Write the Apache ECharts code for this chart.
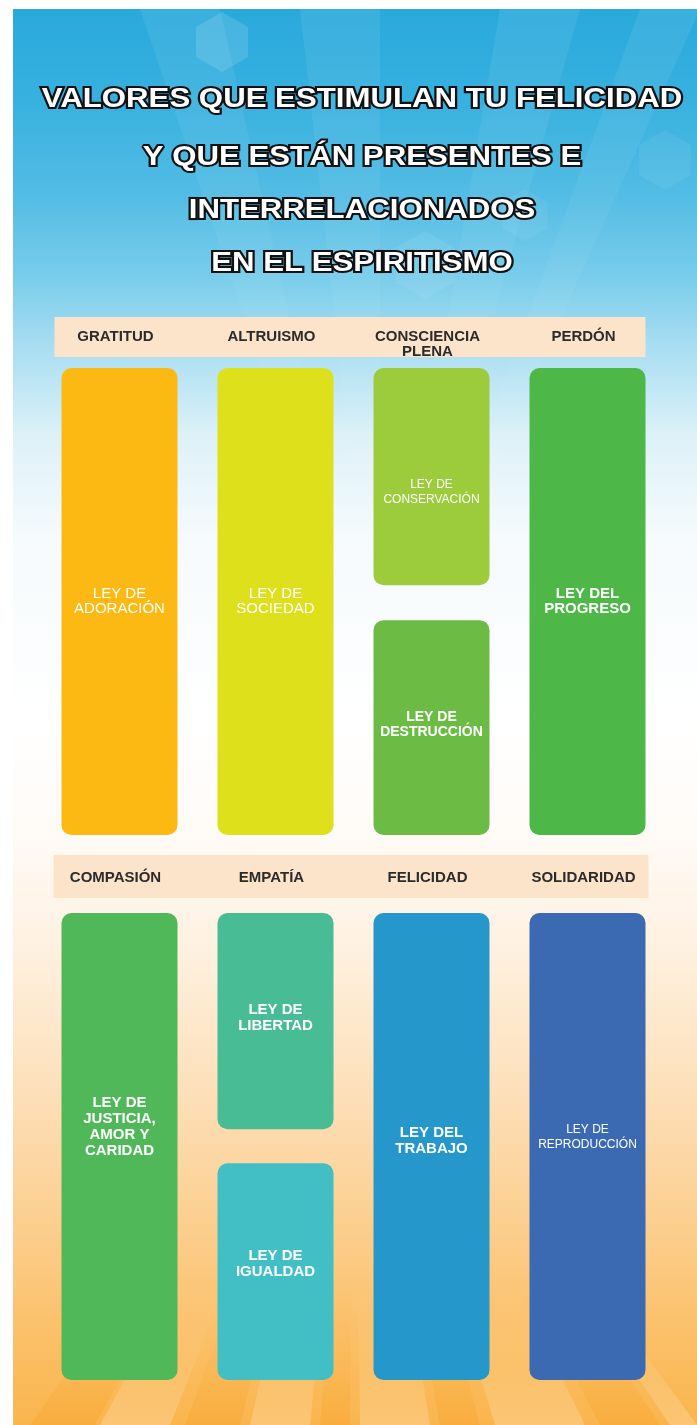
<!DOCTYPE html>
<html>
<head>
<meta charset="utf-8">
<script src="https://cdn.jsdelivr.net/npm/echarts@6/dist/echarts.min.js"></script>
<style>
html,body{margin:0;padding:0;background:#ffffff;}
#c{width:697px;height:1425px;}
</style>
</head>
<body>
<div id="c"></div>
<script>
// ---------- DATA ----------
const titleLines = [
  'VALORES QUE ESTIMULAN TU FELICIDAD',
  'Y QUE ESTÁN PRESENTES E',
  'INTERRELACIONADOS',
  'EN EL ESPIRITISMO'
];
const valoresFila1 = ['GRATITUD', 'ALTRUISMO', 'CONSCIENCIA\nPLENA', 'PERDÓN'];
const valoresFila2 = ['COMPASIÓN', 'EMPATÍA', 'FELICIDAD', 'SOLIDARIDAD'];

const leyesFila1 = [
  ['LEY DE\nADORACIÓN'],
  ['LEY DE\nSOCIEDAD'],
  ['LEY DE\nCONSERVACIÓN', 'LEY DE\nDESTRUCCIÓN'],
  ['LEY DEL\nPROGRESO']
];
const leyesFila2 = [
  ['LEY DE\nJUSTICIA,\nAMOR Y\nCARIDAD'],
  ['LEY DE\nLIBERTAD', 'LEY DE\nIGUALDAD'],
  ['LEY DEL\nTRABAJO'],
  ['LEY DE\nREPRODUCCIÓN']
];
// segment lengths (% of column height) and gap between stacked segments
const tramosFila1 = [[100], [100], [46.5, 46.0], [100]];
const huecosFila1 = [0, 0, 7.5, 0];
const tramosFila2 = [[100], [46.3, 46.4], [100], [100]];
const huecosFila2 = [0, 7.3, 0, 0];

const coloresFila1 = [['#FDB913'], ['#DDE01B'], ['#9CCB3B', '#6CBB45'], ['#4DB748']];
const coloresFila2 = [['#50B858'], ['#48BC94', '#41BFC5'], ['#2597CB'], ['#3B6AB2']];

// ---------- STYLE ----------
const FONT = '"Liberation Sans", Arial, Helvetica, sans-serif';
const ANCHO = 0.7436;
const estiloBase = [
  { fontSize: 15, fontWeight: 'normal', lineHeight: 15 },
  { fontSize: 15, fontWeight: 'bold', lineHeight: 16 }
];
const estiloLey = {
  'LEY DE\nCONSERVACIÓN': { fontSize: 12, dy: 16 },
  'LEY DE\nDESTRUCCIÓN': { fontSize: 14, fontWeight: 'bold', dy: -3 },
  'LEY DEL\nPROGRESO': { fontWeight: 'bold' },
  'LEY DE\nJUSTICIA,\nAMOR Y\nCARIDAD': { dy: -20 },
  'LEY DE\nLIBERTAD': { dy: -3 },
  'LEY DE\nIGUALDAD': { dy: -8 },
  'LEY DEL\nTRABAJO': { dy: -6 },
  'LEY DE\nREPRODUCCIÓN': { fontSize: 12, fontWeight: 'normal', lineHeight: 15, dy: -9 }
};
const bandaEstilo = [
  { gap: 51, h: 40, l: 7, r: 0 },
  { gap: 58, h: 43, l: 8, r: 3 }
];

function construir(leyes, tramos, huecos, colores) {
  const d = [];
  leyes.forEach((col, c) => {
    let cur = 0;
    col.forEach((lab, j) => {
      const len = tramos[c][j];
      d.push({ value: [c, cur, cur + len], nombre: lab, color: colores[c][j] });
      cur += len + huecos[c];
    });
  });
  return d;
}
const datos1 = construir(leyesFila1, tramosFila1, huecosFila1, coloresFila1);
const datos2 = construir(leyesFila2, tramosFila2, huecosFila2, coloresFila2);

function renderCaja(datos, fila) {
  return function (params, api) {
    const it = datos[params.dataIndex];
    const a = api.coord([api.value(0), api.value(1)]);
    const b = api.coord([api.value(0), api.value(2)]);
    const bw = api.size([1, 0])[0] * ANCHO;
    const x = a[0] - bw / 2;
    const y = Math.min(a[1], b[1]);
    const h = Math.abs(b[1] - a[1]);
    const est = Object.assign({}, estiloBase[fila], estiloLey[it.nombre] || {});
    return {
      type: 'group',
      children: [
        { type: 'rect', shape: { x: x, y: y, width: bw, height: h, r: 10 }, style: { fill: it.color } },
        {
          type: 'text', x: a[0] + (est.dx || 0), y: y + h / 2 + (est.dy || 0),
          style: {
            text: it.nombre, align: 'center', verticalAlign: 'middle', fill: '#ffffff',
            font: est.fontWeight + ' ' + est.fontSize + 'px ' + FONT, lineHeight: est.lineHeight
          }
        }
      ]
    };
  };
}
function renderBanda(fila) {
  return function (params, api) {
    const bw = api.size([1, 0])[0] * ANCHO;
    const a = api.coord([0, 0]);
    const b = api.coord([3, 0]);
    const st = bandaEstilo[fila];
    return {
      type: 'rect',
      shape: { x: a[0] - bw / 2 - st.l, y: a[1] - st.gap, width: (b[0] - a[0]) + bw + st.l + st.r, height: st.h },
      style: { fill: '#FCE4CB' }
    };
  };
}

// ---------- BACKGROUND DECORATION ----------
const deco = [];
deco.push({
  type: 'rect', z: 0, shape: { x: 13, y: 9, width: 684, height: 1416 },
  style: {
    fill: new echarts.graphic.LinearGradient(0, 0, 0, 1, [
      { offset: 0.00, color: '#29A9DB' },
      { offset: 0.06, color: '#36B0DF' },
      { offset: 0.13, color: '#52BCE4' },
      { offset: 0.19, color: '#7ACDEB' },
      { offset: 0.24, color: '#AADEF2' },
      { offset: 0.30, color: '#DCF1F8' },
      { offset: 0.37, color: '#F5FAFC' },
      { offset: 0.50, color: '#FFFFFF' },
      { offset: 0.58, color: '#FFFBF7' },
      { offset: 0.66, color: '#FEF1E1' },
      { offset: 0.75, color: '#FDE2BF' },
      { offset: 0.85, color: '#FCD093' },
      { offset: 0.93, color: '#FBC16B' },
      { offset: 1.00, color: '#FAB54D' }
    ])
  }
});
// upper light rays (subtle)
const topFocus = [380, 720];
[[140, 220], [300, 380], [500, 580], [640, 700]].forEach(s => {
  deco.push({
    type: 'polygon', z: 1,
    shape: { points: [topFocus, [s[0], 9], [s[1], 9]] },
    style: {
      fill: new echarts.graphic.LinearGradient(0, 0, 0, 1, [
        { offset: 0, color: 'rgba(255,255,255,0.08)' },
        { offset: 0.45, color: 'rgba(255,255,255,0.03)' },
        { offset: 1, color: 'rgba(255,255,255,0)' }
      ])
    }
  });
});
// hexagons near the top
function hexa(cx, cy, r) {
  const p = [];
  for (let i = 0; i < 6; i++) {
    const ang = Math.PI / 6 + i * Math.PI / 3;
    p.push([cx + r * Math.cos(ang), cy + r * Math.sin(ang)]);
  }
  return p;
}
[[222, 42, 30, 0.13], [425, 265, 34, 0.07], [525, 215, 26, 0.06], [665, 160, 30, 0.06]].forEach(h => {
  deco.push({ type: 'polygon', z: 1, shape: { points: hexa(h[0], h[1], h[2]) }, style: { fill: 'rgba(255,255,255,' + h[3] + ')' } });
});
// lower rays (only near the bottom)
const botFocus = [355, 960];
[[30, 95], [185, 240], [320, 350], [440, 480], [600, 660]].forEach(s => {
  deco.push({
    type: 'polygon', z: 1,
    shape: { points: [botFocus, [s[0], 1425], [s[1], 1425]] },
    style: {
      fill: new echarts.graphic.LinearGradient(0, 0, 0, 1, [
        { offset: 0, color: 'rgba(247,160,35,0)' },
        { offset: 0.7, color: 'rgba(247,160,35,0)' },
        { offset: 0.88, color: 'rgba(247,160,35,0.12)' },
        { offset: 1, color: 'rgba(247,160,35,0.35)' }
      ])
    }
  });
});
[[100, 170], [250, 310], [360, 430], [495, 585], [670, 697]].forEach(s => {
  deco.push({
    type: 'polygon', z: 1,
    shape: { points: [botFocus, [s[0], 1425], [s[1], 1425]] },
    style: {
      fill: new echarts.graphic.LinearGradient(0, 0, 0, 1, [
        { offset: 0, color: 'rgba(255,255,255,0)' },
        { offset: 0.7, color: 'rgba(255,255,255,0)' },
        { offset: 0.88, color: 'rgba(255,255,255,0.08)' },
        { offset: 1, color: 'rgba(255,255,255,0.22)' }
      ])
    }
  });
});
// title
const titleY = [99, 157, 210, 263];
titleLines.forEach((t, i) => {
  deco.push({
    type: 'text', z: 10, x: 362, y: titleY[i], scaleX: 1.155, scaleY: 1.04,
    style: {
      text: t, align: 'center', verticalAlign: 'middle',
      font: 'bold 27px ' + FONT,
      fill: '#ffffff', stroke: '#111111', lineWidth: 4, strokeFirst: true,
      shadowColor: 'rgba(0,0,0,0.5)', shadowOffsetX: 1.5, shadowOffsetY: 1.5, shadowBlur: 0
    }
  });
});

// ---------- CHART ----------
function ejeX(idx, cats, margin) {
  return {
    type: 'category', gridIndex: idx, data: cats, position: 'top', z: 6,
    axisLine: { show: false }, axisTick: { show: false }, splitLine: { show: false },
    axisLabel: {
      interval: 0, margin: margin, verticalAlign: 'top', fontSize: 15, fontWeight: 'bold',
      color: '#2b2b2b', fontFamily: FONT, lineHeight: 15, padding: [0, 8, 0, 0]
    }
  };
}
function ejeY(idx) {
  return { type: 'value', gridIndex: idx, min: 0, max: 100, inverse: true, show: false };
}

const chart = echarts.init(document.getElementById('c'), null, { renderer: 'canvas' });
chart.setOption({
  animation: false,
  backgroundColor: '#ffffff',
  graphic: { elements: deco },
  grid: [
    { left: 41.5, width: 624, top: 368, height: 467 },
    { left: 41.5, width: 624, top: 913, height: 467 }
  ],
  xAxis: [ejeX(0, valoresFila1, 38.5), ejeX(1, valoresFila2, 42.5)],
  yAxis: [ejeY(0), ejeY(1)],
  series: [
    { type: 'custom', name: 'banda1', xAxisIndex: 0, yAxisIndex: 0, z: 2, data: [[0, 0]], renderItem: renderBanda(0), silent: true },
    { type: 'custom', name: 'banda2', xAxisIndex: 1, yAxisIndex: 1, z: 2, data: [[0, 0]], renderItem: renderBanda(1), silent: true },
    { type: 'custom', name: 'leyes1', xAxisIndex: 0, yAxisIndex: 0, z: 3, encode: { x: 0, y: [1, 2] },
      data: datos1.map(d => d.value), renderItem: renderCaja(datos1, 0) },
    { type: 'custom', name: 'leyes2', xAxisIndex: 1, yAxisIndex: 1, z: 3, encode: { x: 0, y: [1, 2] },
      data: datos2.map(d => d.value), renderItem: renderCaja(datos2, 1) }
  ]
});
</script>
</body>
</html>
